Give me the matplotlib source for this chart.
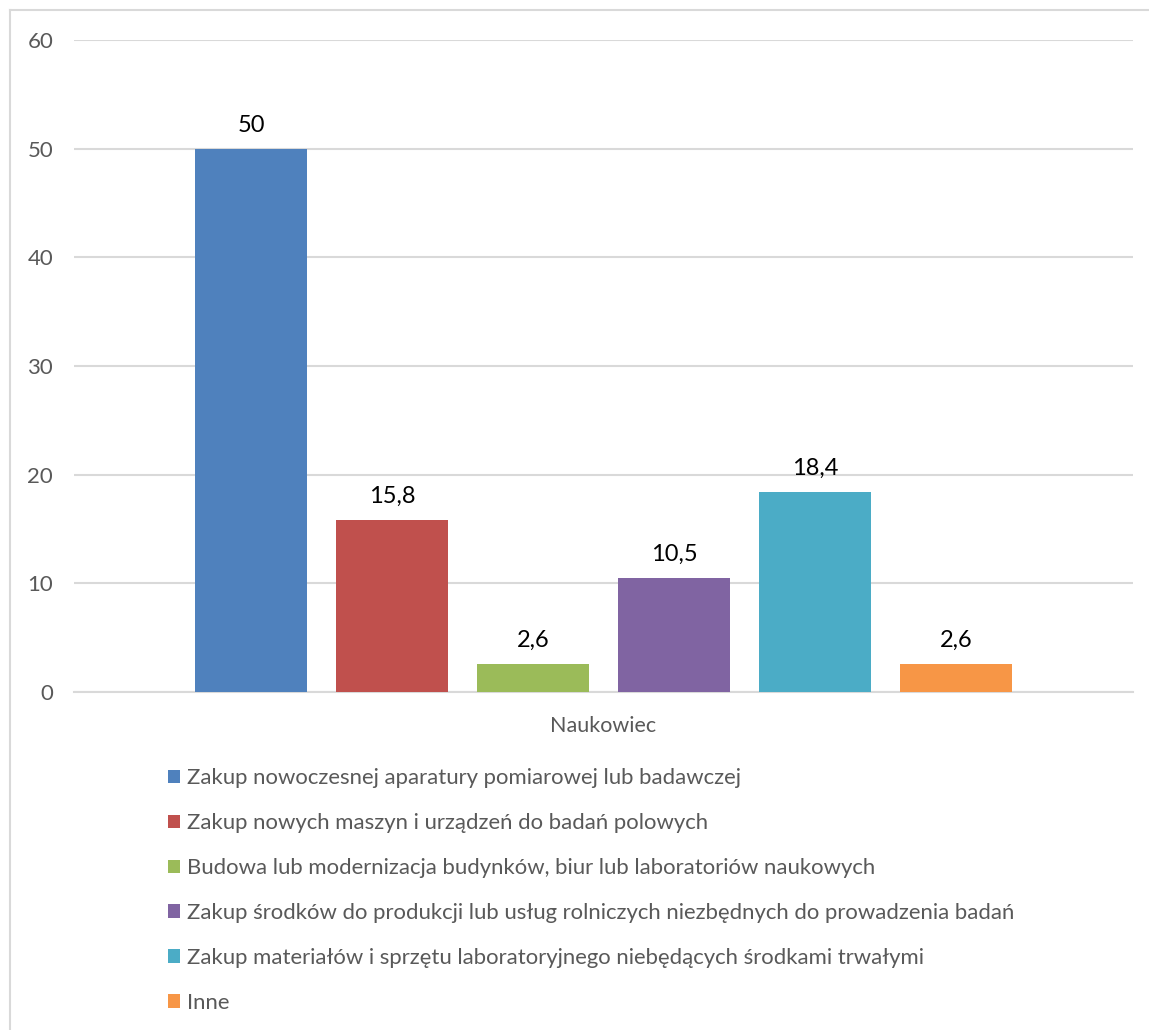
import matplotlib.pyplot as plt
from matplotlib.lines import Line2D

plt.rcParams['font.family'] = ['Lato', 'DejaVu Sans']

category = "Naukowiec"
series_names = [
    "Zakup nowoczesnej aparatury pomiarowej lub badawczej",
    "Zakup nowych maszyn i urządzeń do badań polowych",
    "Budowa lub modernizacja budynków, biur lub laboratoriów naukowych",
    "Zakup środków do produkcji lub usług rolniczych niezbędnych do prowadzenia badań",
    "Zakup materiałów i sprzętu laboratoryjnego niebędących środkami trwałymi",
    "Inne",
]
values = [50, 15.8, 2.6, 10.5, 18.4, 2.6]
labels = ["50", "15,8", "2,6", "10,5", "18,4", "2,6"]
colors = ["#4F81BD", "#C0504D", "#9BBB59", "#8064A2", "#4BACC6", "#F79646"]
y_ticks = [0, 10, 20, 30, 40, 50, 60]

W, H = 1149, 1030
fig = plt.figure(figsize=(W / 100, H / 100), dpi=100)
ax = fig.add_axes([74 / W, 1 - 692 / H, (1133 - 74) / W, (692 - 40) / H])

grid_c = "#D9D9D9"
text_c = "#595959"

bar_w = 0.1058
step = 0.1331
bars = []
for i, (v, c, name) in enumerate(zip(values, colors, series_names)):
    x = (i - 2.5) * step
    b = ax.bar(x, v, width=bar_w, color=c, label=name, zorder=3)
    bars.append(b)
    ax.text(x, v + 1.2, labels[i], ha="center", va="bottom",
            fontsize=17, color="black")

ax.set_xlim(-0.5, 0.5)
ax.set_ylim(0, 60)
ax.set_yticks(y_ticks)
ax.set_yticklabels([str(t) for t in y_ticks], fontsize=16, color=text_c)
ax.tick_params(axis="y", length=0, pad=15)
ax.set_xticks([0])
ax.set_xticklabels([category], fontsize=15.5, color=text_c)
ax.tick_params(axis="x", length=0, pad=17)
ax.yaxis.grid(True, color=grid_c, linewidth=1.5, zorder=0)
for s in ["top", "right", "left"]:
    ax.spines[s].set_visible(False)
ax.spines["bottom"].set_color(grid_c)
ax.spines["bottom"].set_linewidth(1.5)

fig.legend(handles=[b[0] for b in bars], labels=series_names,
           loc="upper left", bbox_to_anchor=(168 / W, 1 - 768 / H),
           frameon=False, fontsize=15.9, labelcolor=text_c,
           handlelength=0.54, handleheight=0.54, handletextpad=0.32,
           labelspacing=1.13, borderpad=0, borderaxespad=0)

# chart frame edges
fig.add_artist(Line2D([10 / W, 1], [1 - 10 / H, 1 - 10 / H],
                      transform=fig.transFigure, color=grid_c, linewidth=1.5))
fig.add_artist(Line2D([10 / W, 10 / W], [0, 1 - 10 / H],
                      transform=fig.transFigure, color=grid_c, linewidth=1.5))

fig.savefig("out.png", dpi=100, facecolor="white")
